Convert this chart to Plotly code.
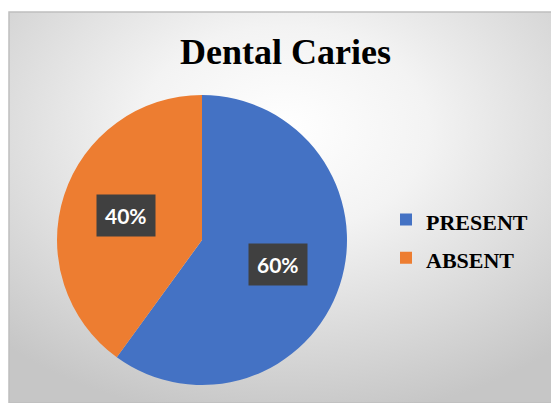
import base64
import math
import plotly.graph_objects as go

# ---- data ----
categories = ["PRESENT", "ABSENT"]
values = [60, 40]
colors = ["#4472C4", "#ED7D31"]
title_text = "Dental Caries"

# page has an 8px body margin, so the figure covers screen pixels 8..559 / 8..403
OFF = 8
W, H = 559 - OFF, 403 - OFF


def px(x):
    return (x - OFF) / W


def py(y):
    return 1 - (y - OFF) / H


# chart frame (screen pixels)
fx0, fy0 = 9, 12

svg = (
    '<svg xmlns="http://www.w3.org/2000/svg" width="550" height="391" viewBox="0 0 550 391" preserveAspectRatio="none">'
    '<defs><radialGradient id="g" cx="50%" cy="30%" r="75%">'
    '<stop offset="0%" stop-color="#ffffff"/>'
    '<stop offset="35%" stop-color="#f3f3f3"/>'
    '<stop offset="100%" stop-color="#c6c6c6"/>'
    '</radialGradient></defs>'
    '<rect width="550" height="391" fill="url(#g)"/></svg>'
)
src = "data:image/svg+xml;base64," + base64.b64encode(svg.encode()).decode()

# pie geometry (screen pixels)
cx, cy, R = 202, 240, 145
dom_x = [px(cx - R), px(cx + R)]
dom_y = [py(cy + R), py(cy - R)]

legend_labels = [f"<span style='font-size:22px'>{c}</span>" for c in categories]

fig = go.Figure()
fig.add_trace(go.Pie(
    labels=legend_labels,
    values=values,
    marker=dict(colors=colors, line=dict(width=0)),
    sort=False,
    direction="clockwise",
    rotation=0,
    textinfo="none",
    hovertemplate="%{percent}<extra></extra>",
    domain=dict(x=dom_x, y=dom_y),
))

total = sum(values)
annotations = []
cum = 0
for v in values:
    mid = (cum + v / 2) / total * 2 * math.pi
    cum += v
    r = 0.55 * R
    lx = cx + r * math.sin(mid)
    ly = cy - r * math.cos(mid)
    pct = round(v / total * 100)
    annotations.append(dict(
        x=px(lx), y=py(ly), xref="paper", yref="paper",
        text=f"{pct}%", showarrow=False,
        font=dict(family="Lato, Open Sans, sans-serif", size=21, color="white", weight="bold"),
        bgcolor="#404040", borderpad=8,
        xanchor="center", yanchor="middle",
    ))

annotations.append(dict(
    x=px(285), y=py(52), xref="paper", yref="paper",
    text=title_text, showarrow=False,
    font=dict(family="Liberation Serif, serif", size=36, color="black", weight="bold"),
    xanchor="center", yanchor="middle",
))

fig.update_layout(
    width=W, height=H,
    margin=dict(l=0, r=0, t=0, b=0),
    paper_bgcolor="white",
    plot_bgcolor="rgba(0,0,0,0)",
    images=[dict(
        source=src, xref="paper", yref="paper",
        x=px(fx0), y=py(fy0), sizex=1 - px(fx0), sizey=py(fy0),
        xanchor="left", yanchor="top", sizing="stretch", layer="below",
    )],
    shapes=[dict(
        type="rect", xref="paper", yref="paper",
        x0=px(fx0), y0=0, x1=1, y1=py(fy0),
        line=dict(color="#bfbfbf", width=1.5), fillcolor="rgba(0,0,0,0)",
        layer="below",
    )],
    annotations=annotations,
    showlegend=True,
    legend=dict(
        x=px(386), y=py(239), xanchor="left", yanchor="middle",
        font=dict(family="Liberation Serif, serif", size=27, color="black", weight="bold"),
        bgcolor="rgba(0,0,0,0)", itemwidth=30,
        tracegroupgap=0,
    ),
)

fig.write_html("out.html")
